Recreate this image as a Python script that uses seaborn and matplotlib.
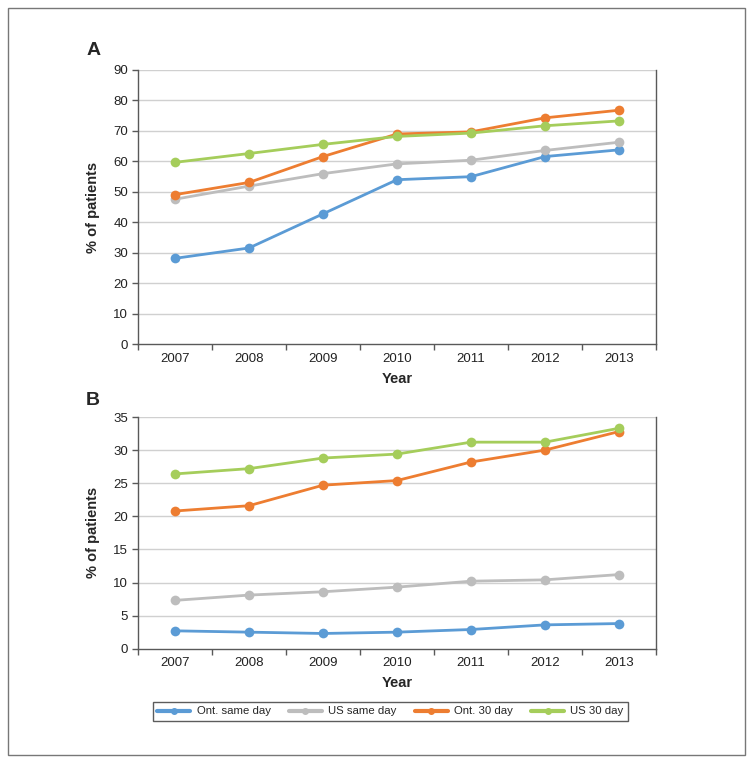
import numpy as np
import pandas as pd
import matplotlib
matplotlib.use("Agg")
import matplotlib.pyplot as plt
from matplotlib.patches import Rectangle
from matplotlib.lines import Line2D
import seaborn as sns

years = ["2007", "2008", "2009", "2010", "2011", "2012", "2013"]
series_names = ["Ont. same day", "US same day", "Ont. 30 day", "US 30 day"]

a_ont_same = [28.2, 31.6, 42.8, 54.0, 55.0, 61.6, 63.8]
a_us_same = [47.6, 51.9, 56.0, 59.2, 60.4, 63.6, 66.3]
a_ont_30 = [49.1, 53.1, 61.6, 69.0, 69.7, 74.3, 76.8]
a_us_30 = [59.7, 62.6, 65.6, 68.2, 69.3, 71.7, 73.3]

b_ont_same = [2.7, 2.5, 2.3, 2.5, 2.9, 3.6, 3.8]
b_us_same = [7.3, 8.1, 8.6, 9.3, 10.2, 10.4, 11.2]
b_ont_30 = [20.8, 21.6, 24.7, 25.4, 28.2, 30.0, 32.8]
b_us_30 = [26.4, 27.2, 28.8, 29.4, 31.2, 31.2, 33.3]

colors = ["#5B9BD5", "#BDBDBD", "#ED7D31", "#A5CD5B"]


def long_df(vals):
    rows = []
    for name, v in zip(series_names, vals):
        for i, (yr, val) in enumerate(zip(years, v)):
            rows.append({"pos": i, "year": yr, "series": name, "value": val})
    return pd.DataFrame(rows)


df_a = long_df([a_ont_same, a_us_same, a_ont_30, a_us_30])
df_b = long_df([b_ont_same, b_us_same, b_ont_30, b_us_30])

sns.set_theme(style="white")
plt.rcParams["font.family"] = ["Liberation Sans", "DejaVu Sans"]

fig = plt.figure(figsize=(7.54, 7.62), dpi=100)
W, H = 754, 762


def ax_rect(l, t, r, b):
    return [l / W, 1 - b / H, (r - l) / W, (b - t) / H]


ax_a = fig.add_axes(ax_rect(138, 70, 656, 344.3))
ax_b = fig.add_axes(ax_rect(138, 417, 656, 648.7))

spine_col = "#595959"
grid_col = "#D0D0D0"


def style(ax, df, ymax, ystep, letter):
    sns.lineplot(data=df, x="pos", y="value", hue="series", hue_order=series_names,
                 palette=colors, marker="o", markersize=7, markeredgewidth=0,
                 linewidth=2, ax=ax, legend=False, zorder=3)
    ax.set_xlim(-0.5, 6.5)
    ax.set_ylim(0, ymax)
    yt = np.arange(0, ymax + 0.001, ystep)
    ax.set_yticks(yt)
    ax.set_yticklabels([f"{int(v)}" for v in yt])
    ax.set_xticks(range(7))
    ax.set_xticklabels(years)
    ax.set_xticks(np.arange(-0.5, 7, 1.0), minor=True)
    ax.tick_params(axis="x", which="major", length=0, pad=6, labelsize=9.5, colors="#222222")
    ax.tick_params(axis="x", which="minor", length=4, width=1, color=spine_col, direction="out", bottom=True)
    ax.tick_params(axis="y", which="major", length=4, width=1, color=spine_col, direction="out",
                   left=True, labelsize=9.5, colors="#222222", pad=3)
    for y in yt[1:]:
        ax.axhline(y, color=grid_col, linewidth=1, zorder=1)
    for s in ["left", "bottom", "right"]:
        ax.spines[s].set_color(spine_col)
        ax.spines[s].set_linewidth(1)
    ax.spines["top"].set_visible(False)
    ax.set_xlabel("Year", fontsize=10.5, fontweight="bold", labelpad=5)
    ax.set_ylabel("% of patients", fontsize=10.5, fontweight="bold", labelpad=10)
    ax.text(-0.1, 1.07, letter, transform=ax.transAxes, fontsize=14, fontweight="bold",
            ha="left", va="center")


style(ax_a, df_a, 90, 10, "A")
style(ax_b, df_b, 35, 5, "B")

# Legend
handles = [Line2D([0], [0], color=c, linewidth=3, marker="o", markersize=4) for c in colors]
leg = fig.legend(handles, series_names, loc="center", bbox_to_anchor=(390.5 / W, 1 - 711.5 / H),
                 ncol=4, frameon=True, fancybox=False, fontsize=8.2, handlelength=2.9,
                 columnspacing=1.6, borderpad=0.4, handletextpad=0.55)
leg.get_frame().set_edgecolor("#333333")
leg.get_frame().set_linewidth(1)

# Outer frame
fig.patches.append(Rectangle((8 / W, 1 - 755 / H), 737 / W, 747 / H, transform=fig.transFigure,
                             fill=False, edgecolor="#777777", linewidth=1))

fig.savefig("out.png", dpi=100)
